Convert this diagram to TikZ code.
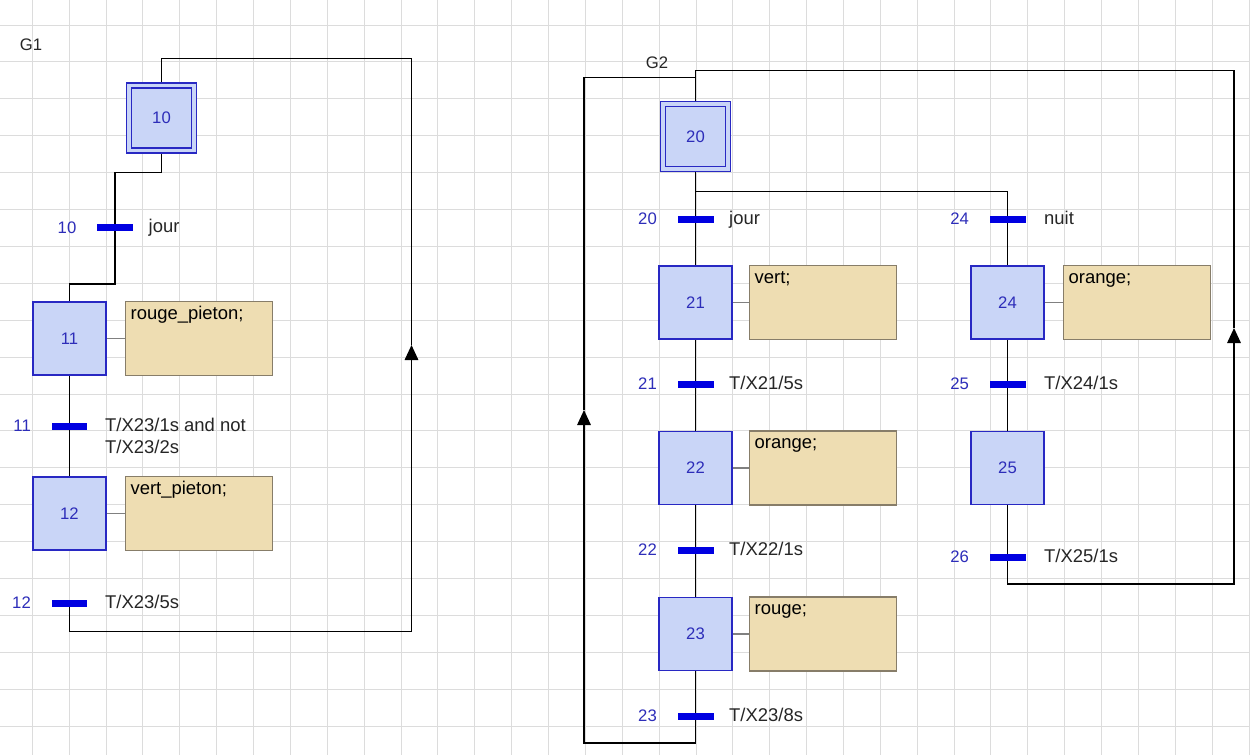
\documentclass[tikz,border=0pt]{standalone}
\usepackage{fontspec}
\setmainfont{Liberation Sans}
\usepackage{xcolor}
\definecolor{stepfill}{RGB}{201,213,247}
\definecolor{stepframe}{RGB}{40,40,195}
\definecolor{numblue}{RGB}{45,45,185}
\definecolor{barblue}{RGB}{0,0,225}
\definecolor{actfill}{RGB}{238,221,178}
\definecolor{actframe}{RGB}{135,125,105}
\definecolor{gridgray}{RGB}{220,220,220}
\usepackage{tikz}
\usetikzlibrary{arrows.meta,positioning,calc,backgrounds}
\tikzset{
  gr_title/.style={inner sep=0pt,text=black!85,
    font=\fontsize{9.5}{11}\selectfont},
  gr_step/.style={rectangle,draw=stepframe,fill=stepfill,
    line width=0.95pt,minimum size=1.46cm,inner sep=0pt,
    text=numblue,font=\fontsize{9.5}{11}\selectfont},
  gr_init/.style={gr_step,double=stepfill,double distance=2pt,
    line width=0.95pt,minimum size=1.3cm},
  gr_trans/.style={rectangle,fill=barblue,inner sep=0pt,
    minimum width=0.72cm,minimum height=0.14cm},
  gr_action/.style={rectangle,draw=actframe,fill=actfill,
    line width=0.9pt,text width=2.74cm,align=left,inner sep=0.1cm,
    text height=0.25cm,text depth=1.03cm,
    font=\fontsize{10.5}{12}\selectfont},
  gr_num/.style={inner sep=0pt,text=numblue,
    font=\fontsize{9.5}{11}\selectfont},
  gr_cond/.style={inner sep=0pt,align=left,text=black!85,
    font=\fontsize{10.5}{13}\selectfont},
  link/.style={draw=black,line width=0.9pt},
  act_link/.style={draw=black!50,line width=0.6pt},
  loop_tip/.style={-{Triangle[length=0.3cm,width=0.27cm]}},
  gridline/.style={draw=gridgray,line width=0.5pt},
}

\begin{document}
\begin{tikzpicture}[x=0.02cm,y=-0.02cm]

  \useasboundingbox (0,0) rectangle (1250,755);

  % G1
  \node (g1) [gr_title] at (31,45) {G1};
  \node (s10) [gr_init] at (161.5,118) {10};
  \node (t10) [gr_trans] at (115,227.5) {};
  \node (s11) [gr_step] at (69.5,338.5) {11};
  \node (a11) [gr_action, right=0.36cm of s11] {rouge\_pieton;};
  \node (t11) [gr_trans] at (69.5,426) {};
  \node (s12) [gr_step] at (69.5,513.5) {12};
  \node (a12) [gr_action, right=0.36cm of s12] {vert\_pieton;};
  \node (t12) [gr_trans] at (69.5,603) {};

  \node (n10) [gr_num, left=0.4cm of t10] {10};
  \node (n11) [gr_num, left=0.4cm of t11] {11};
  \node (n12) [gr_num, left=0.4cm of t12] {12};
  \node (c10) [gr_cond, right=0.3cm of t10, anchor=base west, yshift=-0.1cm] {jour};
  \node (c11) [gr_cond, right=0.34cm of t11, anchor=base west, yshift=-0.1cm-13pt]
    {T/X23/1s and not\\T/X23/2s};
  \node (c12) [gr_cond, right=0.34cm of t12, anchor=base west, yshift=-0.1cm] {T/X23/5s};

  \coordinate (g1tip) at (411.5,345);

  % G2
  \node (g2) [gr_title] at (657,63) {G2};
  \node (s20) [gr_init] at (695.5,136.5) {20};
  \node (t20) [gr_trans] at (695.5,219) {};
  \node (s21) [gr_step] at (695.5,302.5) {21};
  \node (a21) [gr_action, right=0.32cm of s21] {vert;};
  \node (t21) [gr_trans] at (695.5,384) {};
  \node (s22) [gr_step] at (695.5,468) {22};
  \node (a22) [gr_action, right=0.32cm of s22] {orange;};
  \node (t22) [gr_trans] at (695.5,550) {};
  \node (s23) [gr_step] at (695.5,634) {23};
  \node (a23) [gr_action, right=0.32cm of s23] {rouge;};
  \node (t23) [gr_trans] at (695.5,716) {};

  \node (t24) [gr_trans] at (1007.5,219) {};
  \node (s24) [gr_step] at (1007.5,302.5) {24};
  \node (a24) [gr_action, right=0.36cm of s24] {orange;};
  \node (t25) [gr_trans] at (1007.5,384) {};
  \node (s25) [gr_step] at (1007.5,468) {25};
  \node (t26) [gr_trans] at (1007.5,557) {};

  \node (n20) [gr_num, left=0.4cm of t20] {20};
  \node (n21) [gr_num, left=0.4cm of t21] {21};
  \node (n22) [gr_num, left=0.4cm of t22] {22};
  \node (n23) [gr_num, left=0.4cm of t23] {23};
  \node (n24) [gr_num, left=0.4cm of t24] {24};
  \node (n25) [gr_num, left=0.4cm of t25] {25};
  \node (n26) [gr_num, left=0.4cm of t26] {26};
  \node (c20) [gr_cond, right=0.3cm of t20, anchor=base west, yshift=-0.1cm] {jour};
  \node (c21) [gr_cond, right=0.3cm of t21, anchor=base west, yshift=-0.1cm] {T/X21/5s};
  \node (c22) [gr_cond, right=0.3cm of t22, anchor=base west, yshift=-0.1cm] {T/X22/1s};
  \node (c23) [gr_cond, right=0.3cm of t23, anchor=base west, yshift=-0.1cm] {T/X23/8s};
  \node (c24) [gr_cond, right=0.36cm of t24, anchor=base west, yshift=-0.1cm] {nuit};
  \node (c25) [gr_cond, right=0.36cm of t25, anchor=base west, yshift=-0.1cm] {T/X24/1s};
  \node (c26) [gr_cond, right=0.36cm of t26, anchor=base west, yshift=-0.1cm] {T/X25/1s};

  \coordinate (g2ltip) at (584,410);
  \coordinate (g2rtip) at (1234,328);

  \begin{pgfonlayer}{background}
    \fill[white] (0,0) rectangle (1250,755);
    \foreach \i in {0,...,33}
      \draw[gridline] ({32.3+36.87*\i},0) -- ({32.3+36.87*\i},755);
    \foreach \j in {0,...,19}
      \draw[gridline] (0,{25+36.9*\j}) -- (1250,{25+36.9*\j});

    \draw[link] (s10.south) -- ++(0,21) -| (t10.center);
    \draw[link] (t10.center) |- ($(s11.north)+(0,-17)$) -- (s11.north);
    \draw[link] (s11) -- (t11.center) -- (s12);
    \draw[link,loop_tip] (t12.center) -- ++(0,28.5) -| (g1tip);
    \draw[link] (g1tip) |- ($(s10.north)+(0,-26)$) -- (s10.north);
    \draw[act_link] (s11) -- (a11);
    \draw[act_link] (s12) -- (a12);

    \draw[link] (s20) -- (t20.center) -- (s21);
    \draw[link] (s21) -- (t21.center) -- (s22);
    \draw[link] (s22) -- (t22.center) -- (s23);
    \draw[link] (s23) -- (t23.center);
    \draw[link] (s20.south) -- ++(0,21.5) -| (t24.center);
    \draw[link] (t24.center) -- (s24);
    \draw[link] (s24) -- (t25.center) -- (s25);
    \draw[link] (s25) -- (t26.center);
    \draw[link,loop_tip] (t23.center) -- ++(0,27) -| (g2ltip);
    \draw[link] (g2ltip) |- ($(s20.north)+(0,-25.5)$);
    \draw[link,loop_tip] (t26.center) -- ++(0,27) -| (g2rtip);
    \draw[link] (g2rtip) |- ($(s20.north)+(0,-32.5)$) -- (s20.north);
    \draw[act_link] (s21) -- (a21);
    \draw[act_link] (s22) -- (a22);
    \draw[act_link] (s23) -- (a23);
    \draw[act_link] (s24) -- (a24);
  \end{pgfonlayer}

\end{tikzpicture}
\end{document}
